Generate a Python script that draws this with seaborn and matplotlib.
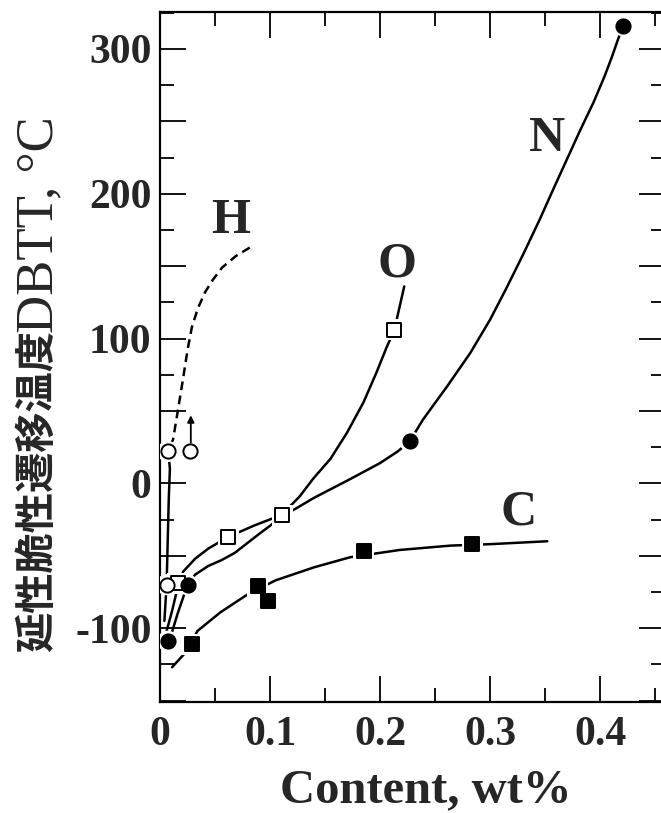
import numpy as np
import pandas as pd
import matplotlib
matplotlib.use('Agg')
import matplotlib.pyplot as plt
import seaborn as sns
from matplotlib.ticker import MultipleLocator, FuncFormatter

# ---- measured points (Content wt%, DBTT degC) ----
h_x = [0.007, 0.027, 0.006]
h_y = [22, 22, -70]
o_x = [0.016, 0.062, 0.111, 0.213]
o_y = [-69, -37, -22, 106]
n_x = [0.007, 0.025, 0.227, 0.421]
n_y = [-109, -70, 29, 316]
c_x = [0.029, 0.089, 0.098, 0.185, 0.284]
c_y = [-111, -71, -81, -47, -42]

# ---- trend curves ----
h_solid_x = [0.004, 0.006, 0.007, 0.008, 0.009, 0.008]
h_solid_y = [-95, -70, -40, -10, 10, 18]
h_dash_x = [0.009, 0.0118, 0.0164, 0.0209, 0.0250, 0.0290, 0.0345, 0.041, 0.0475,
            0.0564, 0.069, 0.082]
h_dash_y = [26, 30, 51, 72, 92, 108, 121, 132, 140, 149, 157, 163]
o_curve_x = [0.006, 0.011, 0.016, 0.021, 0.032, 0.044, 0.062, 0.086, 0.110, 0.118,
             0.127, 0.139, 0.155, 0.170, 0.185, 0.197, 0.206, 0.213, 0.222]
o_curve_y = [-102, -88, -72, -61, -52, -45, -37, -29, -22, -16, -9, 3, 17, 35, 56,
             77, 94, 106, 136]
n_curve_x = [0.010, 0.016, 0.025, 0.032, 0.044, 0.056, 0.068, 0.090, 0.111, 0.140,
             0.173, 0.200, 0.216, 0.227, 0.239, 0.261, 0.282, 0.300, 0.315, 0.330,
             0.345, 0.358, 0.370, 0.382, 0.394, 0.404, 0.411, 0.416, 0.421]
n_curve_y = [-105, -90, -70, -63, -57, -53, -48, -35, -23, -10, 3, 14, 22, 29, 44,
             67, 90, 113, 135, 158, 182, 204, 224, 244, 263, 281, 295, 306, 316]
c_curve_x = [0.011, 0.023, 0.034, 0.055, 0.079, 0.105, 0.140, 0.173, 0.218, 0.264,
             0.300, 0.352]
c_curve_y = [-127, -117, -102, -89, -77, -67, -58, -51, -46, -43, -42, -40]

labels = ['H', 'O', 'N', 'C']
label_x = [0.064, 0.215, 0.352, 0.326]
label_y = [181, 151, 238, -20]

xticks = [0, 0.1, 0.2, 0.3, 0.4]
yticks = [-100, 0, 100, 200, 300]

sns.set_style('ticks')
plt.rcParams['axes.unicode_minus'] = False
plt.rcParams['font.family'] = ['Liberation Serif', 'DejaVu Serif']

W, H = 661, 813
fig = plt.figure(figsize=(W / 100, H / 100), dpi=100)
ax = fig.add_axes([160 / W, 1 - 702 / H, 505 / W, 690 / H])

def curve(x, y, ls='-'):
    df = pd.DataFrame({'x': x, 'y': y})
    sns.lineplot(data=df, x='x', y='y', sort=False, estimator=None, ax=ax,
                 color='black', lw=1.8, linestyle=ls)

curve(h_solid_x, h_solid_y)
curve(h_dash_x, h_dash_y, ls=(0, (3.5, 2.2)))
curve(o_curve_x, o_curve_y)
curve(n_curve_x, n_curve_y)
curve(c_curve_x, c_curve_y)
for ln in ax.lines:
    ln.set_solid_joinstyle('round')
    ln.set_dash_joinstyle('round')

def pts(x, y, marker, filled):
    df = pd.DataFrame({'x': x, 'y': y})
    sns.scatterplot(data=df, x='x', y='y', marker=marker, s=230, color='white',
                    edgecolor='none', ax=ax, zorder=3)
    sns.scatterplot(data=df, x='x', y='y', marker=marker, s=105,
                    color='black' if filled else 'white', edgecolor='black',
                    linewidth=1.4, ax=ax, zorder=4)

pts(o_x, o_y, 's', False)
pts(h_x, h_y, 'o', False)
pts(n_x, n_y, 'o', True)
pts(c_x, c_y, 's', True)

ax.annotate('', xy=(0.028, 47), xytext=(0.028, 28),
            arrowprops=dict(arrowstyle='-|>', color='black', lw=1.3,
                            mutation_scale=10, shrinkA=0, shrinkB=0), zorder=5)

for t, lx, ly in zip(labels, label_x, label_y):
    ax.text(lx, ly, t, ha='center', va='center', fontsize=36, fontweight='bold',
            family='Liberation Serif')

ax.set_xlim(0, 0.459)
ax.set_ylim(-151, 325.5)
ax.xaxis.set_major_locator(MultipleLocator(0.1))
ax.xaxis.set_minor_locator(MultipleLocator(0.05))
ax.yaxis.set_major_locator(MultipleLocator(50))
ax.yaxis.set_minor_locator(MultipleLocator(25))
ax.xaxis.set_major_formatter(FuncFormatter(
    lambda v, p: ('0' if abs(v) < 1e-9 else f'{v:.1f}') if any(abs(v - t) < 1e-9 for t in xticks) else ''))
ax.yaxis.set_major_formatter(FuncFormatter(
    lambda v, p: f'{int(round(v))}' if any(abs(v - t) < 1e-9 for t in yticks) else ''))
ax.tick_params(which='both', direction='in', top=True, right=True, color='black')
ax.tick_params(which='major', length=19, width=1.3)
ax.tick_params(which='minor', length=10, width=1.3)
ax.tick_params(axis='y', which='major', pad=6)
ax.tick_params(axis='x', which='major', pad=10)
for lab in ax.get_xticklabels() + ax.get_yticklabels():
    lab.set_fontsize(30)
    lab.set_fontweight('bold')
    lab.set_family('Liberation Serif')
for s in ax.spines.values():
    s.set_linewidth(1.6)
    s.set_color('black')
ax.set_xlabel('')
ax.set_ylabel('')

fig.text(426 / W, 1 - 802 / H, 'Content, wt%', ha='center', va='baseline',
         fontsize=35, fontweight='bold', family='Liberation Serif')

fig.canvas.draw()
r = fig.canvas.get_renderer()
t1 = fig.text(37 / W, 1 - 652 / H, '延性脆性遷移温度', rotation=90, ha='center',
              va='bottom', fontsize=29, fontweight='bold',
              family=['Noto Sans CJK JP', 'DejaVu Sans'])
bb = t1.get_window_extent(r)
fig.text(39 / W, bb.y1 / fig.bbox.height - 0.004, 'DBTT, °C', rotation=90, ha='center',
         va='bottom', fontsize=38, family=['Liberation Serif', 'DejaVu Serif'])

fig.savefig('out.png', dpi=100)
